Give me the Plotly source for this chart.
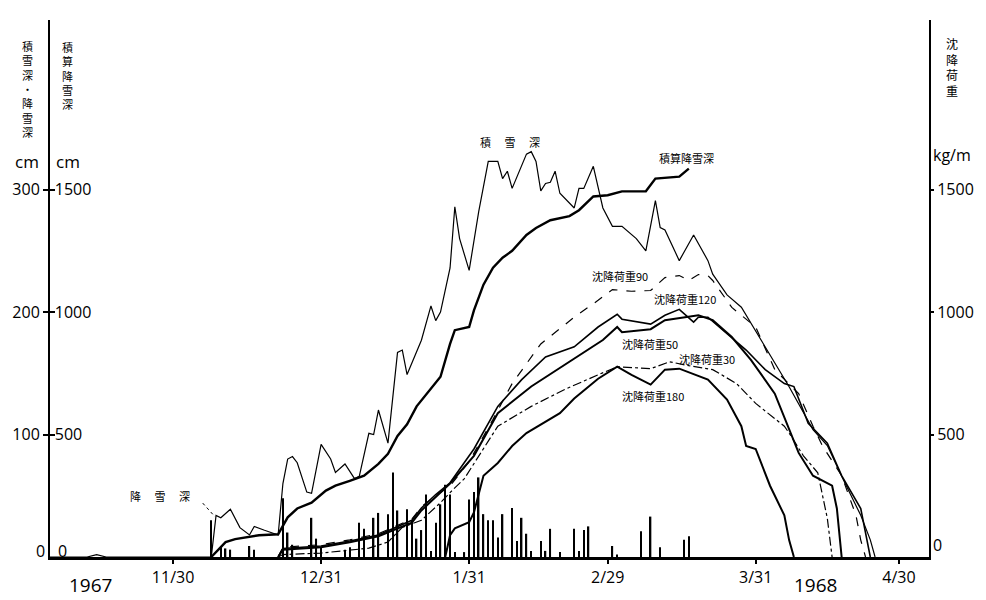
import plotly.graph_objects as go

# ---------------- data ----------------
# 積雪深 (snow depth, cm)
snow_dates = ["1967-11-04", "1967-11-12", "1967-11-14", "1967-11-16", "1967-12-07", "1967-12-08",
              "1967-12-09", "1967-12-10", "1967-12-12", "1967-12-14", "1967-12-16", "1967-12-17",
              "1967-12-19", "1967-12-21", "1967-12-22", "1967-12-23", "1967-12-24", "1967-12-25",
              "1967-12-26", "1967-12-28", "1967-12-29", "1967-12-31", "1968-01-02", "1968-01-03",
              "1968-01-05", "1968-01-07", "1968-01-08", "1968-01-10", "1968-01-11", "1968-01-12",
              "1968-01-14", "1968-01-16", "1968-01-17", "1968-01-18", "1968-01-20", "1968-01-21",
              "1968-01-23", "1968-01-24", "1968-01-25", "1968-01-27", "1968-01-28", "1968-01-29",
              "1968-01-31", "1968-02-02", "1968-02-04", "1968-02-06", "1968-02-07", "1968-02-08",
              "1968-02-09", "1968-02-11", "1968-02-12", "1968-02-13", "1968-02-14", "1968-02-15",
              "1968-02-16", "1968-02-17", "1968-02-18", "1968-02-19", "1968-02-22", "1968-02-23",
              "1968-02-24", "1968-02-26", "1968-02-28", "1968-03-01", "1968-03-03", "1968-03-06",
              "1968-03-08", "1968-03-10", "1968-03-11", "1968-03-12", "1968-03-15", "1968-03-18",
              "1968-03-21", "1968-03-22", "1968-03-25", "1968-03-28", "1968-04-02", "1968-04-07",
              "1968-04-12", "1968-04-15", "1968-04-18", "1968-04-22", "1968-04-24", "1968-04-25"]
snow_depth = [0, 0, 2, 0, 0, 0,
              34, 32, 39, 24, 18, 25,
              22, 19, 18, 60, 80, 82,
              77, 53, 52, 92, 80, 69,
              76, 64, 66, 101, 100, 120,
              93, 167, 169, 149, 167, 177,
              205, 193, 200, 236, 286, 260,
              234, 282, 323, 323, 309, 315,
              301, 320, 329, 331, 323, 299,
              305, 306, 315, 297, 285, 301,
              301, 319, 285, 270, 270, 260,
              250, 291, 269, 267, 242, 263,
              242, 231, 214, 204, 172, 139,
              104, 91, 66, 34, 14, 0]

# 積算降雪深 (cumulative snowfall, cm)
cum_dates = ["1967-12-08", "1967-12-10", "1967-12-11", "1967-12-13", "1967-12-16", "1967-12-18",
             "1967-12-22", "1967-12-23", "1967-12-24", "1967-12-26", "1967-12-29", "1968-01-01",
             "1968-01-03", "1968-01-06", "1968-01-09", "1968-01-12", "1968-01-14", "1968-01-16",
             "1968-01-18", "1968-01-20", "1968-01-22", "1968-01-25", "1968-01-27", "1968-01-28",
             "1968-01-31", "1968-02-01", "1968-02-03", "1968-02-05", "1968-02-07", "1968-02-09",
             "1968-02-12", "1968-02-14", "1968-02-17", "1968-02-21", "1968-02-23", "1968-02-26",
             "1968-02-29", "1968-03-03", "1968-03-08", "1968-03-10", "1968-03-15", "1968-03-17"]
cum_snow = [0, 40, 61, 73, 81, 89,
            93, 129, 162, 198, 222, 271,
            291, 311, 332, 380, 421, 494,
            542, 615, 663, 736, 870, 926,
            939, 1007, 1112, 1181, 1222, 1250,
            1315, 1343, 1375, 1392, 1416, 1472,
            1477, 1493, 1493, 1545, 1553, 1586]

# 沈降荷重 (settlement load, kg/m)
load90_dates = ["1967-12-22", "1967-12-23", "1967-12-31", "1968-01-06", "1968-01-12", "1968-01-16",
                "1968-01-19", "1968-01-21", "1968-01-24", "1968-01-27", "1968-01-31", "1968-02-05",
                "1968-02-09", "1968-02-15", "1968-02-22", "1968-02-27", "1968-03-01", "1968-03-05",
                "1968-03-09", "1968-03-12", "1968-03-15", "1968-03-17", "1968-03-19", "1968-03-21",
                "1968-03-22", "1968-03-26", "1968-03-31", "1968-04-04", "1968-04-09", "1968-04-12",
                "1968-04-14", "1968-04-18", "1968-04-21", "1968-04-22", "1968-04-23"]
load90 = [0, 40, 50, 70, 95, 130,
          155, 205, 250, 290, 390, 562,
          708, 870, 979, 1048, 1092, 1085,
          1088, 1141, 1149, 1129, 1153, 1149,
          1129, 1019, 939, 765, 667, 534,
          453, 332, 170, 69, 0]

load120_dates = ["1967-12-22", "1967-12-23", "1967-12-31", "1968-01-06", "1968-01-12", "1968-01-16",
                 "1968-01-19", "1968-01-21", "1968-01-24", "1968-01-27", "1968-02-01", "1968-02-06",
                 "1968-02-11", "1968-02-16", "1968-02-22", "1968-02-27", "1968-03-02", "1968-03-03",
                 "1968-03-09", "1968-03-12", "1968-03-15", "1968-03-18", "1968-03-19", "1968-03-21",
                 "1968-03-25", "1968-03-29", "1968-04-02", "1968-04-06", "1968-04-08", "1968-04-11",
                 "1968-04-15", "1968-04-18", "1968-04-22", "1968-04-24"]
load120 = [0, 35, 45, 65, 90, 125,
           150, 200, 255, 303, 441, 615,
           724, 817, 858, 939, 991, 971,
           951, 987, 1011, 959, 979, 979,
           910, 845, 765, 708, 696, 546,
           465, 332, 198, 0]

load50_dates = ["1967-12-22", "1967-12-23", "1967-12-31", "1968-01-06", "1968-01-12", "1968-01-16",
                "1968-01-19", "1968-01-21", "1968-01-24", "1968-01-27", "1968-02-01", "1968-02-06",
                "1968-02-13", "1968-02-22", "1968-02-28", "1968-03-02", "1968-03-03", "1968-03-09",
                "1968-03-12", "1968-03-19", "1968-03-22", "1968-03-26", "1968-03-30", "1968-04-04",
                "1968-04-07", "1968-04-09", "1968-04-12", "1968-04-16", "1968-04-17", "1968-04-18"]
load50 = [0, 30, 40, 60, 85, 115,
          140, 190, 245, 300, 413, 587,
          696, 809, 886, 939, 918, 930,
          967, 987, 967, 898, 805, 667,
          522, 425, 332, 291, 198, 0]

load30_dates = ["1967-12-22", "1967-12-23", "1967-12-31", "1968-01-10", "1968-01-14", "1968-01-17",
                "1968-01-21", "1968-01-25", "1968-01-27", "1968-01-30", "1968-02-04", "1968-02-06",
                "1968-02-13", "1968-02-20", "1968-02-27", "1968-03-02", "1968-03-09", "1968-03-13",
                "1968-03-17", "1968-03-22", "1968-03-27", "1968-03-31", "1968-04-06", "1968-04-07",
                "1968-04-10", "1968-04-13", "1968-04-15", "1968-04-16"]
load30 = [0, 10, 16, 36, 61, 121,
          150, 222, 263, 320, 473, 534,
          615, 684, 744, 777, 769, 797,
          781, 765, 708, 627, 534, 506,
          413, 344, 158, 0]

load180_dates = ["1968-01-26", "1968-01-27", "1968-01-28", "1968-01-31", "1968-02-01", "1968-02-02",
                 "1968-02-03", "1968-02-06", "1968-02-09", "1968-02-12", "1968-02-16", "1968-02-19",
                 "1968-02-22", "1968-02-27", "1968-03-02", "1968-03-05", "1968-03-09", "1968-03-12",
                 "1968-03-15", "1968-03-21", "1968-03-25", "1968-03-28", "1968-03-29", "1968-03-31",
                 "1968-04-03", "1968-04-06", "1968-04-07", "1968-04-08"]
load180 = [0, 89, 117, 142, 182, 263,
           332, 384, 453, 506, 554, 587,
           647, 728, 777, 744, 704, 765,
           769, 724, 643, 534, 453, 441,
           291, 170, 69, 0]

# 降雪深 (daily snowfall, cm)
fall_dates = ["1967-12-08", "1967-12-10", "1967-12-11", "1967-12-12", "1967-12-16", "1967-12-17",
              "1967-12-23", "1967-12-24", "1967-12-25", "1967-12-29", "1967-12-30", "1967-12-31",
              "1968-01-05", "1968-01-06", "1968-01-08", "1968-01-09", "1968-01-11", "1968-01-12",
              "1968-01-14", "1968-01-15", "1968-01-16", "1968-01-18", "1968-01-19", "1968-01-20",
              "1968-01-21", "1968-01-22", "1968-01-23", "1968-01-24", "1968-01-25", "1968-01-26",
              "1968-01-27", "1968-01-28", "1968-01-30", "1968-01-31", "1968-02-01", "1968-02-02",
              "1968-02-03", "1968-02-04", "1968-02-05", "1968-02-06", "1968-02-07", "1968-02-09",
              "1968-02-10", "1968-02-11", "1968-02-12", "1968-02-13", "1968-02-15", "1968-02-16",
              "1968-02-17", "1968-02-19", "1968-02-22", "1968-02-23", "1968-02-24", "1968-02-25",
              "1968-03-01", "1968-03-02", "1968-03-07", "1968-03-09", "1968-03-11", "1968-03-16",
              "1968-03-17"]
daily_snowfall = [30, 9, 7, 6, 9, 6,
                  48, 20, 10, 32, 15, 8,
                  6, 8, 28, 23, 32, 36,
                  35, 69, 38, 39, 30, 15,
                  22, 51, 5, 28, 43, 59,
                  51, 4, 4, 47, 53, 65,
                  35, 30, 30, 16, 35, 40,
                  13, 32, 19, 5, 13, 5,
                  23, 4, 23, 5, 22, 25,
                  9, 2, 21, 33, 8, 14,
                  17]

xtick_dates = ["1967-11-30", "1967-12-31", "1968-01-31", "1968-02-29", "1968-03-31", "1968-04-30"]
xtick_labels = ["11/30", "12/31", "1/31", "2/29", "3/31", "4/30"]
cm_ticks = [100, 200, 300]
big_ticks = [500, 1000, 1500]

# ---------------- layout constants ----------------
W, H = 986, 600
ML, MR, MT, MB = 45, 48, 20, 38
X_RANGE = ["1967-11-04 05:30", "1968-05-06 07:00"]
Y_CM_MAX = 438.5
Y_BIG_MAX = Y_CM_MAX * 5

NUM_FAMILY = "Open Sans, Roboto, sans-serif"
NUM_FONT = dict(family=NUM_FAMILY, size=16, color="black")
JP = "Noto Sans CJK JP"


def paper(xp, yp):
    return (xp - ML) / (W - ML - MR), (H - MB - yp) / (H - MT - MB)


fig = go.Figure()

fig.add_trace(go.Bar(x=fall_dates, y=daily_snowfall, width=0.3 * 86400000,
                     marker=dict(color="black", line=dict(width=0)),
                     yaxis="y", showlegend=False, name="降雪深"))

fig.add_trace(go.Scatter(x=snow_dates, y=snow_depth, mode="lines", yaxis="y",
                         line=dict(color="black", width=1.2), showlegend=False, name="積雪深"))

fig.add_trace(go.Scatter(x=cum_dates, y=cum_snow, mode="lines", yaxis="y3",
                         line=dict(color="black", width=2.4), showlegend=False, name="積算降雪深"))

load_styles = [
    ("沈降荷重90", load90_dates, load90, dict(color="black", width=1.2, dash="dash")),
    ("沈降荷重120", load120_dates, load120, dict(color="black", width=1.6)),
    ("沈降荷重50", load50_dates, load50, dict(color="black", width=2.0)),
    ("沈降荷重30", load30_dates, load30, dict(color="black", width=1.2, dash="dashdot")),
    ("沈降荷重180", load180_dates, load180, dict(color="black", width=2.0)),
]
for name, d, v, ln in load_styles:
    fig.add_trace(go.Scatter(x=d, y=v, mode="lines", yaxis="y2", line=ln,
                             showlegend=False, name=name))

annotations = []


def add_text(text, xp, yp, size=11, family=JP):
    x, y = paper(xp, yp)
    annotations.append(dict(text=text, x=x, y=y, xref="paper", yref="paper",
                            showarrow=False, xanchor="center", yanchor="middle",
                            font=dict(family=family, size=size, color="black")))


# axis titles
add_text("積<br>雪<br>深<br>・<br>降<br>雪<br>深", 22, 90, 11)
add_text("積<br>算<br>降<br>雪<br>深", 63, 76, 11)
add_text("沈<br>降<br>荷<br>重", 961, 67, 12)
add_text("cm", 22, 163, 17, NUM_FAMILY)
add_text("cm", 63, 163, 17, NUM_FAMILY)
add_text("kg/m", 961, 156, 16, NUM_FAMILY)
add_text("0", 35, 556, 16, NUM_FAMILY)
add_text("0", 58, 556, 16, NUM_FAMILY)
add_text("0", 947, 550, 16, NUM_FAMILY)
add_text("1967", 86, 590, 19, NUM_FAMILY)
add_text("1968", 823, 590, 19, NUM_FAMILY)

# curve labels
add_text("積\u3000 雪\u3000 深", 512, 143, 11)
add_text("積算降雪深", 692, 159, 11)
add_text("沈降荷重90", 624, 278, 11)
add_text("沈降荷重120", 690, 302, 11)
add_text("沈降荷重50", 655, 347, 11)
add_text("沈降荷重30", 712, 362, 11)
add_text("沈降荷重180", 658, 399, 11)
add_text("降\u3000 雪\u3000 深", 157, 500, 11)

fig.add_shape(type="line", xref="x", yref="y",
              x0="1967-12-06 05:00", y0=44, x1="1967-12-08 18:00", y1=33,
              line=dict(color="black", width=1, dash="dot"))

axis_common = dict(showgrid=False, zeroline=False, tickcolor="black",
                   tickfont=NUM_FONT, linecolor="black")

fig.update_layout(
    width=W, height=H,
    margin=dict(l=ML, r=MR, t=MT, b=MB),
    paper_bgcolor="white", plot_bgcolor="white",
    barmode="overlay",
    annotations=annotations,
    xaxis=dict(type="date", range=X_RANGE, tickvals=xtick_dates, ticktext=xtick_labels,
               ticks="outside", ticklen=4, tickwidth=1.5, showline=True, linewidth=2.5,
               **axis_common),
    yaxis=dict(range=[0, Y_CM_MAX], tickvals=cm_ticks, ticks="outside", ticklen=5,
               tickwidth=1.5, showline=True, linewidth=2, side="left", **axis_common),
    yaxis3=dict(range=[0, Y_BIG_MAX], tickvals=big_ticks, overlaying="y", side="left",
                anchor="x", ticks="inside", ticklen=5, tickwidth=1.5,
                ticklabelposition="inside", showline=False, **axis_common),
    yaxis2=dict(range=[0, Y_BIG_MAX], tickvals=big_ticks, overlaying="y", side="right",
                anchor="x", ticks="outside", ticklen=3, tickwidth=1.5, showline=True,
                linewidth=2, **axis_common),
)

fig.write_html("out.html")
